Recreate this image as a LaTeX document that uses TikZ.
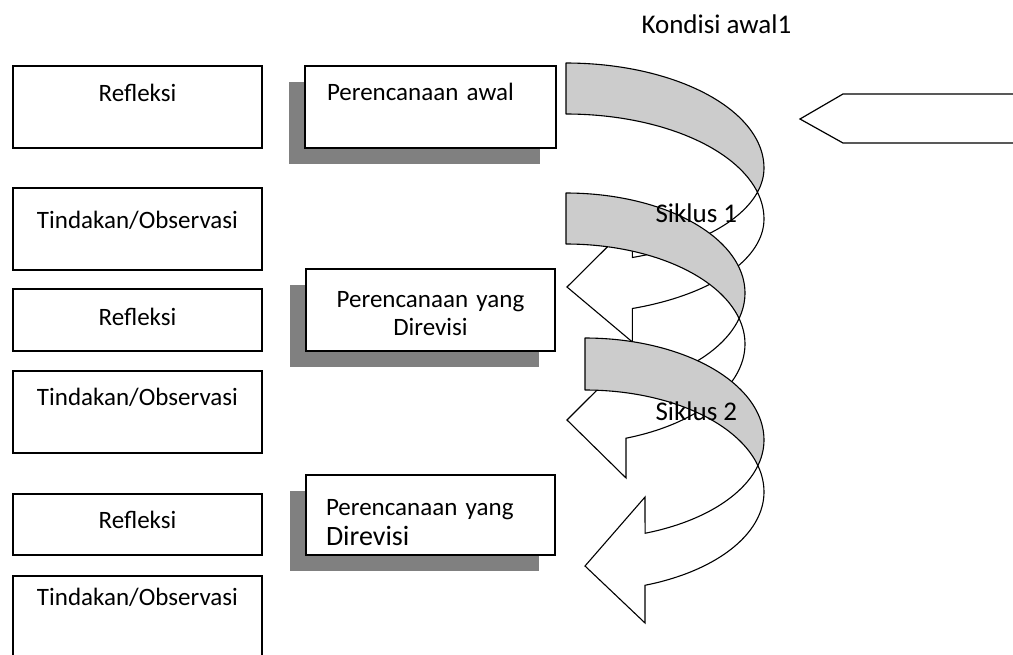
\documentclass[tikz,border=0pt]{standalone}
\usepackage{fontspec}
\setmainfont{Carlito}
\usetikzlibrary{positioning,shadows}
\definecolor{cRibbon}{RGB}{204,204,204}
\definecolor{cShadow}{RGB}{128,128,128}

\begin{document}
\begin{tikzpicture}[x=1pt,y=-1pt,
  box/.style={draw,line width=2.8pt,anchor=north west,inner sep=0pt,outer sep=0pt,
              fill=white,minimum width=249pt,align=center,
              font=\fontsize{25}{28}\selectfont},
  plan/.style={box,drop shadow={shadow xshift=-16pt,shadow yshift=-16pt,
               fill=cShadow,opacity=1}},
  lbl/.style={anchor=base west,font=\fontsize{27}{32}\selectfont},
  ribfront/.style={draw,fill=cRibbon,line width=1.1pt,line join=round},
  ribback/.style={draw,fill=white,line width=1.1pt},
  entry/.style={draw,line width=1.2pt},
]
\useasboundingbox (0,0) rectangle (1013,654);
\clip (0,0) rectangle (1013,654);

% left column
\node[box,minimum height=82pt,text height=35pt,text depth=47pt] (refl1) at (13,66) {Refleksi};
\node[box,minimum height=82pt,text height=40pt,text depth=42pt,
      below=40pt of refl1.south west,anchor=north west] (tind1) {Tindakan/Observasi};
\node[box,minimum height=62pt,text height=36pt,text depth=26pt,
      below=19pt of tind1.south west,anchor=north west] (refl2) {Refleksi};
\node[box,minimum height=82pt,text height=34pt,text depth=48pt,
      below=20pt of refl2.south west,anchor=north west] (tind2) {Tindakan/Observasi};
\node[box,minimum height=61pt,text height=34pt,text depth=27pt,
      below=41pt of tind2.south west,anchor=north west] (refl3) {Refleksi};
\node[box,minimum height=100pt,text height=29pt,text depth=71pt,
      below=21pt of refl3.south west,anchor=north west] (tind3) {Tindakan/Observasi};

% planning boxes
\node[plan,minimum width=251pt,minimum height=82pt,text height=34pt,text depth=48pt,
      align=left,inner xsep=22pt,text width=207pt,
      right=43pt of refl1.north east,anchor=north west] (plan1) {Perencanaan awal};
\node[plan,minimum height=82pt,text height=38pt,text depth=44pt,
      text width=231pt] (plan2) at (306,269)
      {Perencanaan yang\\Direvisi};
\node[plan,minimum height=80pt,text height=40pt,text depth=40pt,align=left,
      inner xsep=20pt,text width=209pt,font=\fontsize{25}{30}\selectfont] (plan3) at (306,475)
      {Perencanaan yang\\{\fontsize{28}{30}\selectfont Direvisi}};

% spiral ribbons: back face with head, then front face
\foreach \lx/\rx/\cy/\bw/\ryt/\ryb/\tipx/\tipy/\htop/\hbot in
  {566/198/168/51/105/95/567/287/222/342,
   566/179/293/51/100/100/567/420/361/478,
   585/179/440/52/102/99/585/566/497/623}{
  \pgfmathsetmacro\ax{asin(\bw/(\ryb+\ryt))}
  \pgfmathsetmacro\xh{\lx+\rx*cos(70.4)}
  \filldraw[ribback]
    plot[samples=40,domain=\ax:70.4] ({\lx+\rx*cos(\x)},{\cy+\ryb*sin(\x)})
    -- (\xh,\htop) -- (\tipx,\tipy) -- (\xh,\hbot)
    -- plot[samples=40,domain=70.4:0] ({\lx+\rx*cos(\x)},{\cy+\bw+\ryb*sin(\x)})
    -- plot[samples=10,domain=0:-\ax] ({\lx+\rx*cos(\x)},{\cy+\bw+\ryt*sin(\x)}) -- cycle;
  \filldraw[ribfront]
    plot[samples=50,domain=-90:0] ({\lx+\rx*cos(\x)},{\cy+\ryt*sin(\x)})
    -- plot[samples=10,domain=0:\ax] ({\lx+\rx*cos(\x)},{\cy+\ryb*sin(\x)})
    -- plot[samples=50,domain=-\ax:-90] ({\lx+\rx*cos(\x)},{\cy+\bw+\ryt*sin(\x)}) -- cycle;
}

% entry arrow on the right
\draw[entry] (1030,94) -- (843,94) -- (800,119) -- (843,143) -- (1030,143);

% labels
\node[lbl] (kond) at (638,33) {Kondisi awal1};
\node[lbl] (sik1) at (652,222) {Siklus 1};
\node[lbl] (sik2) at (652,420) {Siklus 2};
\end{tikzpicture}
\end{document}
